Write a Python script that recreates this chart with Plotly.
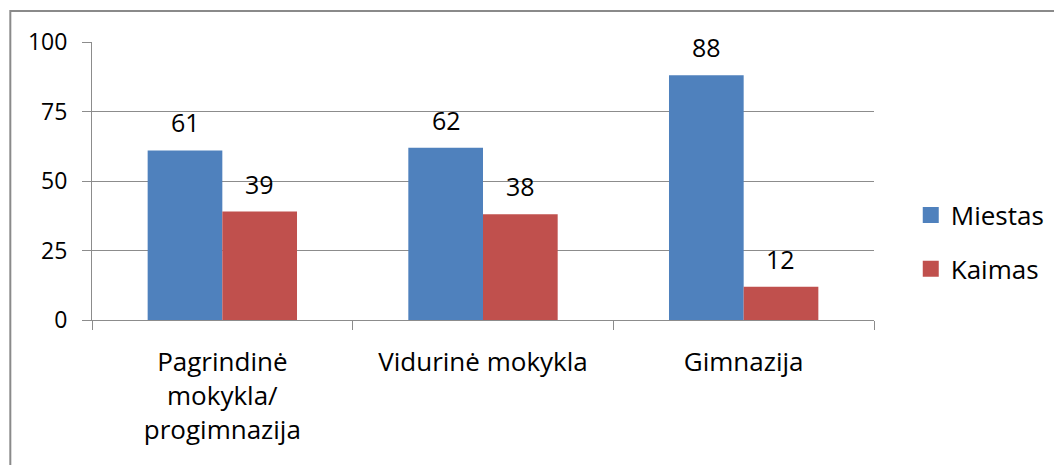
import plotly.graph_objects as go

categories = ["Pagrindinė<br>mokykla/<br>progimnazija", "Vidurinė mokykla", "Gimnazija"]
miestas = [61, 62, 88]
kaimas = [39, 38, 12]
series_names = ["Miestas", "Kaimas"]
colors = ["#4F81BD", "#C0504D"]
y_ticks = [0, 25, 50, 75, 100]

FONT = "Open Sans, Calibri, sans-serif"

fig = go.Figure()
for name, vals, col in zip(series_names, [miestas, kaimas], colors):
    fig.add_trace(go.Bar(
        x=categories, y=vals, name=name, marker_color=col,
        marker_line_width=0, showlegend=False,
    ))
# legend entries with larger square swatches
for name, col in zip(series_names, colors):
    fig.add_trace(go.Scatter(
        x=[None], y=[None], mode="markers", name=name, legendgroup=name,
        marker=dict(symbol="square", size=18, color=col),
    ))

# data labels
for i, cat in enumerate(categories):
    for vals, shift in [(miestas, -37), (kaimas, 37)]:
        fig.add_annotation(
            x=cat, y=vals[i], text=str(vals[i]), showarrow=False,
            xshift=shift, yshift=9, yanchor="bottom",
            font=dict(family=FONT, size=25, color="#000000"),
        )

fig.update_layout(
    width=1054, height=457,
    margin=dict(l=84, r=185, t=34, b=145),
    paper_bgcolor="white", plot_bgcolor="white",
    barmode="group", bargap=0.427, bargroupgap=0,
    font=dict(family=FONT, size=24, color="#000000"),
    legend=dict(
        x=1.047, y=0.28, xanchor="left", yanchor="middle",
        font=dict(family=FONT, size=26, color="#000000"),
        traceorder="grouped", tracegroupgap=17,
        bgcolor="rgba(0,0,0,0)",
    ),
    showlegend=True,
)

fig.update_yaxes(
    range=[0, 100], tickvals=y_ticks, ticktext=[str(v) for v in y_ticks],
    showgrid=True, gridcolor="#8C8C8C", gridwidth=1,
    showline=True, linecolor="#8C8C8C", linewidth=1,
    ticks="outside", ticklen=9, tickcolor="#8C8C8C",
    tickfont=dict(family=FONT, size=23, color="#000000"),
    zeroline=False, ticklabelstandoff=10,
)
fig.update_xaxes(
    showline=True, linecolor="#8C8C8C", linewidth=1,
    ticks="outside", ticklen=9, tickcolor="#8C8C8C", tickson="boundaries",
    tickfont=dict(family=FONT, size=26, color="#000000"),
    showgrid=False, ticklabelstandoff=19,
)

# outer chart border (top and left visible, rest cropped)
fig.add_shape(type="rect", xref="paper", yref="paper",
              x0=-82 / 785, x1=1.3, y0=-0.7, y1=(320 - 11) / 278,
              line=dict(color="#8A8A8A", width=2), layer="below")

fig.write_html("out.html")
